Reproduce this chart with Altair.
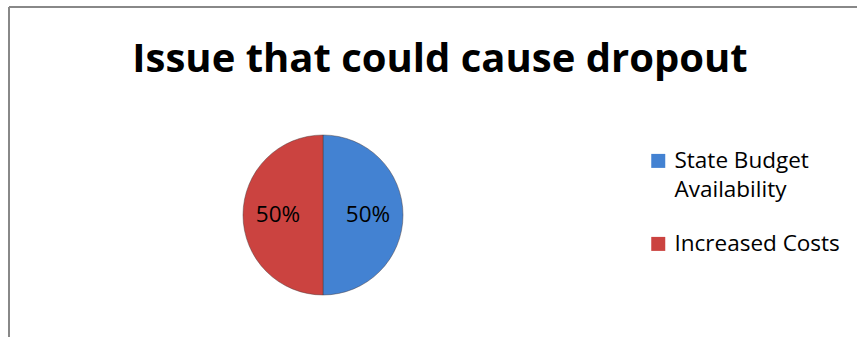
import altair as alt
import pandas as pd

# Chart content
title_text = "Issue that could cause dropout"
categories = ["State Budget Availability", "Increased Costs"]
shares = [50, 50]
colors = ["#4382D2", "#CB4340"]

df = pd.DataFrame({"issue": categories, "share": shares, "order": list(range(len(categories)))})

# Plot-area size and pie placement (inside the padded frame)
W, H = 848, 330
CX, CY = 314, 208
FONT = "Open Sans"

# Square legend swatch, raised so it sits beside the first text line
SWATCH = "M-1,-2.05H1V-0.05H-1Z"

base = alt.Chart(df).encode(
    theta=alt.Theta("share:Q", stack=True),
    order=alt.Order("order:Q"),
)

pie = base.mark_arc(
    outerRadius=80, x=CX, y=CY, stroke="#4a3a3a", strokeOpacity=0.45, strokeWidth=1
).encode(
    color=alt.Color(
        "issue:N",
        scale=alt.Scale(domain=categories, range=colors),
        legend=alt.Legend(
            title=None,
            orient="none",
            legendX=638,
            legendY=150,
            padding=0,
            symbolType=SWATCH,
            symbolSize=196,
            symbolStrokeWidth=0,
            labelFont=FONT,
            labelFontSize=22.5,
            labelColor="#000000",
            labelLimit=400,
            labelOffset=5,
            labelBaseline="alphabetic",
            rowPadding=31,
            labelExpr="datum.label == 'State Budget Availability' ? ['State Budget', 'Availability'] : datum.label",
        ),
    ),
)

labels = (
    base.transform_joinaggregate(total="sum(share)")
    .transform_calculate(pct="format(datum.share / datum.total, '.0%')")
    .mark_text(radius=45, x=CX, y=CY, font=FONT, fontSize=22.5, color="#000000")
    .encode(text="pct:N")
)

# Frame lines along the top and left edges
frame = alt.Data(values=[{}])
top_edge = alt.Chart(frame).mark_rule(color="#888888", strokeWidth=2).encode(
    x=alt.value(0), x2=alt.value(W + 20), y=alt.value(0)
)
left_edge = alt.Chart(frame).mark_rule(color="#888888", strokeWidth=2).encode(
    x=alt.value(0), y=alt.value(0), y2=alt.value(H + 20)
)

chart = (
    alt.layer(top_edge, left_edge, pie, labels)
    .properties(
        width=W,
        height=H,
        padding={"left": 9, "top": 7, "right": 0, "bottom": 0},
        autosize=alt.AutoSizeParams(type="none"),
        title=alt.Title(
            title_text,
            font=FONT,
            fontSize=40,
            fontWeight="bold",
            color="#000000",
            anchor="middle",
            dx=7,
            offset=-74,
        ),
    )
    .configure(
        background="#ffffff",
        view=alt.ViewConfig(stroke=None),
        style={"guide-label": {"lineHeight": 29}},
    )
)

chart.save("out.html", embed_options={"renderer": "svg", "actions": False})
